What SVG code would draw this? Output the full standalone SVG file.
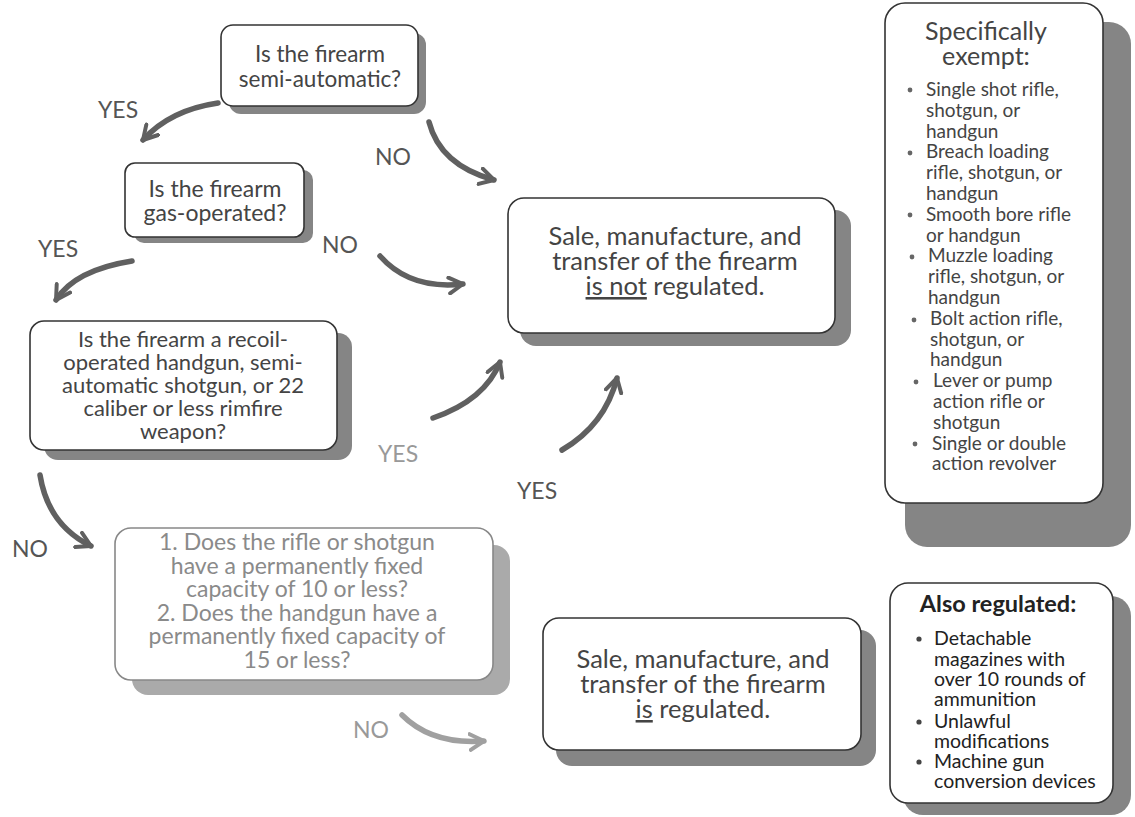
<svg xmlns="http://www.w3.org/2000/svg" width="1135" height="817" viewBox="0 0 1135 817">
<defs>
<style>
.box{fill:#fff;stroke:#333;stroke-width:1.6}
.box.light{stroke:#888}
.sh{fill:#858585}
.sh.light{fill:#aaaaaa}
.t{font-family:Lato,"Noto Sans",sans-serif;fill:#444;text-anchor:middle}
.t.light{fill:#8a8a8a}
.lbl{font-family:Lato,"Noto Sans",sans-serif;font-size:23px;fill:#555}
.lbl.light{fill:#999}
.lst{font-family:Lato,"Noto Sans",sans-serif;font-size:19px;fill:#444}
.lst2{font-family:Lato,"Noto Sans",sans-serif;font-size:19.5px;fill:#222}
.dot{fill:#666}
.arr{fill:none;stroke:#606060;stroke-width:5.5;stroke-linecap:round;marker-end:url(#ah)}
.arr.light{stroke:#a0a0a0;marker-end:url(#ahl)}
</style>
<marker id="ah" viewBox="0 0 10 10" refX="8" refY="5" markerWidth="3.6" markerHeight="3.6" orient="auto" markerUnits="strokeWidth">
<path d="M1 1 L8 5 L1 9" fill="none" stroke="#606060" stroke-width="2" stroke-linecap="round" stroke-linejoin="round"/>
</marker>
<marker id="ahl" viewBox="0 0 10 10" refX="8" refY="5" markerWidth="3.6" markerHeight="3.6" orient="auto" markerUnits="strokeWidth">
<path d="M1 1 L8 5 L1 9" fill="none" stroke="#a0a0a0" stroke-width="2" stroke-linecap="round" stroke-linejoin="round"/>
</marker>
</defs>
<rect width="1135" height="817" fill="#fff"/>

<g id="q1">
<rect class="sh" x="229" y="33" width="197" height="81" rx="12"/>
<rect class="box" x="221" y="25" width="197" height="81" rx="12"/>
<text class="t" font-size="22.5" x="320" y="62">Is the firearm</text>
<text class="t" font-size="22.5" x="320" y="87">semi-automatic?</text>
</g>

<g id="q2">
<rect class="sh" x="134" y="170" width="179" height="73" rx="10"/>
<rect class="box" x="125" y="163" width="179" height="74" rx="10"/>
<text class="t" font-size="23" x="215" y="197">Is the firearm</text>
<text class="t" font-size="23" x="215" y="221">gas-operated?</text>
</g>

<g id="q3">
<rect class="sh" x="44" y="333" width="308" height="127" rx="14"/>
<rect class="box" x="30" y="321" width="307" height="129" rx="14"/>
<text class="t" font-size="22" x="183" y="347">Is the firearm a recoil-</text>
<text class="t" font-size="22" x="183" y="370">operated handgun, semi-</text>
<text class="t" font-size="22" x="183" y="393">automatic shotgun, or 22</text>
<text class="t" font-size="22" x="183" y="416">caliber or less rimfire</text>
<text class="t" font-size="22" x="183" y="439">weapon?</text>
</g>

<g id="q4">
<rect class="sh light" x="132" y="545" width="378" height="150" rx="16"/>
<rect class="box light" x="115" y="528" width="378" height="152" rx="16"/>
<text class="t light" font-size="23" x="297" y="550">1. Does the rifle or shotgun</text>
<text class="t light" font-size="23" x="297" y="573.5">have a permanently fixed</text>
<text class="t light" font-size="23" x="297" y="597">capacity of 10 or less?</text>
<text class="t light" font-size="23" x="297" y="620.5">2. Does the handgun have a</text>
<text class="t light" font-size="23" x="297" y="644">permanently fixed capacity of</text>
<text class="t light" font-size="23" x="297" y="667.5">15 or less?</text>
</g>

<g id="notreg">
<rect class="sh" x="520" y="210" width="331" height="136" rx="16"/>
<rect class="box" x="508" y="198" width="327" height="135" rx="16"/>
<text class="t" font-size="25.5" x="675" y="245">Sale, manufacture, and</text>
<text class="t" font-size="25.5" x="675" y="270">transfer of the firearm</text>
<text class="t" font-size="25.5" x="675" y="295"><tspan text-decoration="underline">is not</tspan> regulated.</text>
</g>

<g id="reg">
<rect class="sh" x="556" y="630" width="320" height="136" rx="16"/>
<rect class="box" x="543" y="618" width="318" height="132" rx="16"/>
<text class="t" font-size="25.5" x="703" y="668" fill="#333">Sale, manufacture, and</text>
<text class="t" font-size="25.5" x="703" y="693" fill="#333">transfer of the firearm</text>
<text class="t" font-size="25.5" x="703" y="718" fill="#333"><tspan text-decoration="underline">is</tspan> regulated.</text>
</g>

<g id="exempt">
<rect class="sh" x="905" y="22" width="226" height="525" rx="22"/>
<rect class="box" x="885" y="3" width="218" height="500" rx="20"/>
<text class="t" font-size="25" x="986" y="40">Specifically</text>
<text class="t" font-size="25" x="986" y="65">exempt:</text>
<circle class="dot" cx="910" cy="90" r="2.4"/>
<circle class="dot" cx="910" cy="153" r="2.4"/>
<circle class="dot" cx="910" cy="215" r="2.4"/>
<circle class="dot" cx="912" cy="257" r="2.4"/>
<circle class="dot" cx="914" cy="320" r="2.4"/>
<circle class="dot" cx="916" cy="382" r="2.4"/>
<circle class="dot" cx="915" cy="444" r="2.4"/>
<g class="lst">
<text x="926" y="96">Single shot rifle,</text>
<text x="926" y="116.8">shotgun, or</text>
<text x="926" y="137.6">handgun</text>
<text x="926" y="158.4">Breach loading</text>
<text x="926" y="179.2">rifle, shotgun, or</text>
<text x="926" y="200">handgun</text>
<text x="926" y="220.8">Smooth bore rifle</text>
<text x="926" y="241.6">or handgun</text>
<text x="928" y="262.4">Muzzle loading</text>
<text x="928" y="283.2">rifle, shotgun, or</text>
<text x="928" y="304">handgun</text>
<text x="930" y="324.8">Bolt action rifle,</text>
<text x="930" y="345.6">shotgun, or</text>
<text x="930" y="366.4">handgun</text>
<text x="933" y="387.2">Lever or pump</text>
<text x="933" y="408">action rifle or</text>
<text x="933" y="428.8">shotgun</text>
<text x="932" y="449.6">Single or double</text>
<text x="932" y="470.4">action revolver</text>
</g>
</g>

<g id="alsoreg">
<rect class="sh" x="903" y="596" width="228" height="219" rx="20"/>
<rect class="box" x="890" y="583" width="223" height="220" rx="18"/>
<text x="998" y="612" font-family="Lato,'Noto Sans',sans-serif" font-size="23.5" font-weight="bold" fill="#222" text-anchor="middle">Also regulated:</text>
<circle cx="919" cy="639" r="2.6" fill="#444"/>
<circle cx="919" cy="722" r="2.6" fill="#444"/>
<circle cx="919" cy="762" r="2.6" fill="#444"/>
<g class="lst2">
<text x="934" y="645">Detachable</text>
<text x="934" y="666">magazines with</text>
<text x="934" y="686">over 10 rounds of</text>
<text x="934" y="706">ammunition</text>
<text x="934" y="728">Unlawful</text>
<text x="934" y="748">modifications</text>
<text x="934" y="768">Machine gun</text>
<text x="934" y="788">conversion devices</text>
</g>
</g>

<g id="connectors">
<path class="arr" d="M218 103 Q170 110 143 140"/>
<path class="arr" d="M429 122 Q440 165 494 180"/>
<path class="arr" d="M132 261 Q75 270 56 300"/>
<path class="arr" d="M380 256 Q410 290 463 284"/>
<path class="arr" d="M433 418 Q485 400 500 362"/>
<path class="arr" d="M562 450 Q605 425 617 378"/>
<path class="arr" d="M40 475 Q48 525 91 546"/>
<path class="arr light" d="M402 715 Q432 745 484 741"/>
</g>

<g id="labels">
<text class="lbl" x="98" y="118">YES</text>
<text class="lbl" x="375" y="165">NO</text>
<text class="lbl" x="38" y="257">YES</text>
<text class="lbl" x="322" y="253">NO</text>
<text class="lbl light" x="378" y="462">YES</text>
<text class="lbl" x="517" y="499">YES</text>
<text class="lbl" x="12" y="557">NO</text>
<text class="lbl light" x="353" y="738">NO</text>
</g>
</svg>
